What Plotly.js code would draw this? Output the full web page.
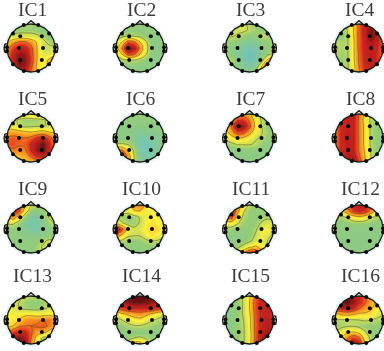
<!DOCTYPE html>
<html><head><meta charset="utf-8">
<script src="https://cdn.plot.ly/plotly-3.0.1.min.js"></script>
<style>html,body{margin:0;padding:0;background:#fff;overflow:hidden}#chart{filter:blur(0.35px)}</style></head>
<body><div id="chart" style="width:384px;height:351px"></div>
<script>
const names=["IC1","IC2","IC3","IC4","IC5","IC6","IC7","IC8","IC9","IC10","IC11","IC12","IC13","IC14","IC15","IC16"];
const gridAxis=[-1,-0.75,-0.5,-0.25,0,0.25,0.5,0.75,1];
const gridRows=[1,0.75,0.5,0.25,0,-0.25,-0.5,-0.75,-1];
const electrodeX=[-0.45,0.45,-0.5,0.5,-0.45,0.45,-0.3,0.3,-0.75,0.75,-1,1,-0.75,0.75,-0.3,0.3,-1,1];
const electrodeY=[0.49,0.49,0,0,-0.5,-0.5,0.96,0.96,0.6,0.6,0.03,0.03,-0.68,-0.68,-0.96,-0.96,-0.12,-0.12];
const ic1=[[3,3,3.2,3.4,3.4,3.4,3.2,3,3],[3.4,3.4,3.4,3.4,3.4,3.2,3,3,3],[4,4,4.2,4.2,4.2,4,3.6,3,3],[5,6,6.8,6.8,6,5,4,3.6,3.4],[6,7.5,8.4,8.3,7,5.2,3.8,4,4],[6.6,8.2,9.2,9,7.2,5.2,4.2,4.2,4.6],[6.6,8.4,9.8,9.4,7.4,5.2,4.4,5.4,6.8],[6,8,9.4,9,7,5,4.4,5.6,6],[5,7,8.4,8.2,6.4,5,4.4,4.6,4.6]];
const ic2=[[3.2,3.2,3.2,3.2,3.2,3.2,3.2,3.2,3.2],[3.1,3.1,3.1,3.1,3.1,3.1,3.1,3.1,3.1],[3.4,3.5,3.7,3.7,3.5,3.2,3,3,3],[3.9,5.2,7.2,6.8,5.2,3.9,3,3,3],[4.4,6.6,9.8,8.8,6.2,4.1,3.1,3,3],[3.9,5.2,7.2,6.8,5.2,3.9,3,3,3],[3.3,3.5,3.7,3.7,3.4,3.1,3,3,3],[3,3,3,3,3,3,3,3,3],[3,3,3,3,3,3,3,3,3]];
const ic3=[[4.2,4.2,4.2,4,3.6,3.3,3.2,3.2,3.2],[4.2,4.2,4,4,3.7,3.4,3.2,3.2,3.4],[3.9,3.9,3.7,3.4,3.1,3.2,3.9,3.5,3.4],[3.3,3.2,3,2.8,2.6,2.8,3,3.2,3.4],[3.2,3,2.8,2.4,2.1,2.4,2.8,3.2,3.4],[3.4,3,2.6,2.2,1.9,2.2,2.7,3.4,4],[3.9,3.6,2.8,2.3,2,2.3,3.2,5.4,7.5],[4.2,3.9,3,2.6,2.4,2.8,5,8,8.2],[4.2,4,3.4,3,3,3.6,6,7,7]];
const ic4=[[3,3,3.9,5,7,8.4,8.6,8,6.5],[2.8,3.2,3.8,5,7,8.6,9.6,8.6,7],[2.8,3.2,3.6,5,7,8.5,9.8,8.6,7],[3.6,3.6,3.6,4.8,7,8.4,9,8.2,6.8],[4,3.6,3.6,4.8,7,8.3,8.6,8,6.6],[3.6,3.4,3.6,4.8,6.8,8.2,8.6,7.8,6.4],[3.4,3.4,3.6,4.8,6.8,8.2,8.8,7.8,6.2],[3.4,3.4,3.6,4.6,6.6,8,8.4,7.4,6],[3.4,3.4,3.6,4.6,6.4,7.8,8,7,5.6]];
const ic5=[[4.6,4.6,4.6,4.8,5,5,4.8,4.6,4.6],[4.2,4,3.7,3.4,3.4,3.5,3.7,4,4.2],[4.6,4.4,3.8,3.5,3.6,3.7,3.7,4,4.2],[5.6,5.8,5.6,5.4,5.2,5.4,5.6,5.2,5],[6.8,7,6.8,6.6,7,8,8.4,7.2,6],[7,7.2,6.8,6.8,8,9,9.8,8,6.2],[6,6.4,6.2,6.4,8,9.2,9.8,8,5.8],[5,5.2,5.4,5.8,6.8,8,8.2,6.6,5],[4.4,4.6,4.8,5,5.4,5.8,6,5,4.4]];
const ic6=[[3.2,3.2,3.2,3.2,3.2,3.2,3.2,3.2,3.2],[3.1,3.1,3.1,3.1,3.1,3.1,3.1,3.1,3.1],[3.1,3,3,3,3,3,3,3,3],[3,3,3,2.9,2.7,2.7,2.8,3,3],[3,3,3,2.7,2.4,2.3,2.5,2.8,3],[3.9,3.9,3.7,3,2.2,2,2.2,2.7,3],[6.2,6.5,4.8,3.6,2.3,2,2.2,2.8,3],[8.4,8.4,6,3.8,2.6,2.2,2.5,2.9,3],[6,7.4,6,3.9,2.9,2.7,2.9,3,3]];
const ic7=[[4,4.6,5.6,6,5.4,4.2,3.6,3.2,3],[4.6,6,7.6,7.6,6.4,4.6,3.7,3.3,3],[5,6.8,9.6,9,7,4.8,3.8,3.3,3],[4.6,6,7.4,7,5.8,4.4,3.9,3.3,3],[4,4.6,5.2,5,4.4,3.9,3.7,3.2,3],[3.4,3.6,3.9,3.9,3.9,3.7,3.3,3,3],[3,3,3,3.1,3.1,3.1,3,3,3],[3,3,3,3,3,3,3,3,3],[3,3,3,3,3,3,3,3,3]];
const ic8=[[6.4,7.6,8.6,8.6,6.6,4.8,3.6,3.2,3],[6.4,8,8.4,8.2,6.4,4.6,3.6,3.2,3],[6.4,8,8.4,8.2,6.4,4.8,3.6,3.2,3],[6.4,8,8.6,8.2,6.4,4.8,3.6,3.2,3],[6.4,8,8.6,8.2,6.4,4.8,3.6,3.2,3],[6.4,8,8.6,8.2,6.4,4.8,3.6,3.2,3],[6.6,8,8.6,8.2,6.4,5,3.7,3.2,3],[6.6,8,8.8,8.8,6.8,5.2,3.8,3.2,3],[6.4,8,8.8,9.8,7.4,5.2,3.8,3.2,3]];
const ic9=[[6,6.6,7,5.6,3.9,3.7,3.6,3.9,4],[6.6,8.2,7,4.4,3.2,3,3.2,4,4.6],[5,6,4.6,3.2,2.4,2.4,3,3.9,4.8],[3.9,4,3.4,2.6,2.2,2.3,2.8,3.4,3.9],[3.2,3.2,3,2.7,2.4,2.4,2.8,3.1,3.2],[3.1,3.1,3.1,2.9,2.8,2.8,3,3.1,3.1],[3.1,3.1,3.1,3.1,3.1,3.2,3.6,4,3.9],[3.1,3.1,3.1,3.1,3.1,3.5,3.9,4.2,4],[3.1,3.1,3.1,3.1,3.1,3.6,3.7,3.8,3.8]];
const ic10=[[4.2,4.4,4.6,6.2,6.4,5,4.6,4.4,4.2],[4.2,4.2,4.2,5,5.1,4.4,4.4,4.4,4.2],[3.9,3.4,3.3,3.4,3.9,4.4,4.6,4.4,4.2],[4.6,3.9,3.4,3.4,3.9,4.6,4.9,4.6,4.2],[9.4,7,4.6,4,4.2,4.8,5.1,5,4.2],[6.6,5,4,3.9,3.9,4.4,4.9,4.4,4],[3.9,3.6,3.3,3.2,3.3,3.6,3.8,3.7,3.6],[3.4,3.3,3.2,3.1,3.1,3.1,3.2,3.3,3.4],[3.4,3.3,3.2,3.1,3.1,3.1,3.2,3.3,3.4]];
const ic11=[[6,6.6,6,4.6,3.6,3.3,3.3,3.3,3.3],[7,8.4,5.6,3.9,3.3,3.2,3.2,3.3,3.4],[6.4,7.2,4.6,3.6,3.2,3.2,3.4,3.6,3.6],[4.6,4.6,3.9,3.4,3.2,3.3,3.9,4.2,3.9],[3.4,3.4,3.2,3.2,3.2,3.6,4.4,4.6,3.9],[3,3,3,3,3.2,3.9,4.4,4.2,3.6],[3,3,3,3.2,3.6,4.2,4.2,3.8,3.4],[3,3.2,3.6,4.2,5,5.4,4.8,3.9,3.4],[3.2,3.6,4.6,6.2,8.2,8,5.6,4.2,3.6]];
const ic12=[[4.6,5.6,6.8,8.2,8.6,8.4,7,5.6,4.6],[4,4.8,6,7.4,8,7.6,6,4.8,4],[3.4,3.6,3.9,4.6,5,4.6,3.9,3.6,3.4],[3.1,3.1,3.2,3.4,3.4,3.4,3.2,3.1,3.1],[3.1,3,3,3,3,3,3,3,3.1],[3.1,3,3,3,2.9,3,3,3,3.1],[3.1,3,3,3,3,3,3,3,3.1],[3,3,3,3,3,3,3,3,3],[3.1,3.1,3.1,3.1,3.1,3.1,3.1,3.1,3.1]];
const ic13=[[4.2,4.2,4.2,3.9,3.7,3.7,3.9,4.2,4.2],[4.4,4.2,3.8,3.4,3.2,3.2,3.4,3.9,4.4],[4.6,4.2,3.8,3.5,3.4,3.4,3.6,3.9,4.4],[4.6,4.4,4.6,4.8,4.8,4.6,4.6,4.8,4.8],[4.8,4.8,5.2,6,6.2,6.2,6.6,6.6,5.8],[5,5.2,6.4,6.6,6.6,6.8,7,6.4,5.2],[6.4,7.6,8,8,6.8,5.8,5.6,4.8,4.2],[7,8.6,9.6,8.8,6.6,4.6,3.6,3.3,3.4],[6.6,8.2,9.8,9.6,6.2,4.2,3.2,3,3]];
const ic14=[[8.4,9,9.6,10,10,9.8,9.4,8.8,8.2],[8,8.6,9.4,9.8,9.8,9.6,9.2,8.6,8],[6.8,7.4,8,8,8,8,8,7.4,6.8],[4.2,5,5.4,5.8,6,5.6,5,4.4,4],[3.5,3.8,4.2,4.6,4.8,4.2,3.9,3.6,3.5],[3.2,3.3,3.5,3.7,3.7,3.6,3.4,3.2,3.2],[3,3,3,3,3,3,3,3,3],[3.2,3.2,3.4,3.8,4,3.7,3.3,3.1,3],[3.4,3.6,4.4,6,5.8,4.6,3.6,3.2,3]];
const ic15=[[3.2,3.3,3.5,3.9,5,6.8,7.8,7.8,7.4],[3,3,3.3,3.9,5.2,7.2,8.3,8.2,7.8],[2.9,3,3.3,3.9,5.2,7.2,8.2,8.4,8],[2.9,3,3.3,3.9,5,7,8.2,8.4,8],[2.9,3,3.3,3.8,4.8,7,8.3,8.6,8.2],[2.9,3,3.3,3.7,4.8,7,8.3,8.7,8.3],[3,3,3.3,3.7,4.6,7,8.5,9,8.5],[3.2,3.2,3.3,3.7,4.6,7,8.9,9.6,8.8],[3.2,3.3,3.4,3.7,4.7,7.2,9.4,9.9,8.8]];
const ic16=[[8,8.8,9.8,9,8,6.8,5.8,5,4.6],[8.4,9.4,10,9.2,8,6.8,5.6,5,4.4],[7.6,8.2,8.6,8,6.8,6,5.4,4.6,4.2],[5,5.4,5.6,5.4,5,5,4.8,4.2,3.9],[3.6,3.7,3.7,3.7,3.8,3.9,3.8,3.6,3.5],[3.4,3.5,3.7,3.7,3.5,3.3,3.2,3.2,3.2],[3.8,4.4,5,5.2,4.8,3.9,3.3,3.1,3],[4.2,5,6.4,7.6,6.8,4.6,3.5,3.1,3],[4.4,5.4,7.2,9.4,8.4,5,3.6,3.2,3]];
const maps=[ic1,ic2,ic3,ic4,ic5,ic6,ic7,ic8,ic9,ic10,ic11,ic12,ic13,ic14,ic15,ic16];
const colorStops=[[0,"#50b4d8"],[0.2,"#74c4b8"],[0.33,"#96cc74"],[0.38,"#c4da60"],[0.46,"#fff23a"],[0.6,"#f9981f"],[0.76,"#e42a20"],[0.88,"#b01a1c"],[1,"#5e0c10"]];
const colCentres=[31,140,249.5,359],rowCentres=[48,138,229,320],titleRows=[10,98,188,275];
const W=384,H=351,R=24;
const traces=[],annotations=[],layout={width:W,height:H,margin:{l:0,r:0,t:0,b:0},paper_bgcolor:"#fff",plot_bgcolor:"rgba(0,0,0,0)",showlegend:false};
const T=[...Array(121).keys()].map(i=>i*Math.PI/60);
const circle=r=>({x:T.map(t=>r*Math.sin(t)),y:T.map(t=>r*Math.cos(t))});
maps.forEach((z,i)=>{
  const n=i+1,cx=colCentres[i%4],cy=rowCentres[Math.floor(i/4)];
  const ax=n===1?"":String(n),xa="x"+ax,ya="y"+ax;
  const x0=Math.max(0,cx-31),x1=Math.min(W,cx+31),y0=Math.max(0,cy-31),y1=Math.min(H,cy+31);
  const hide={visible:false,fixedrange:true};
  layout["xaxis"+ax]=Object.assign({domain:[x0/W,x1/W],range:[(x0-cx)/R,(x1-cx)/R],anchor:ya},hide);
  layout["yaxis"+ax]=Object.assign({domain:[1-y1/H,1-y0/H],range:[(cy-y1)/R,(cy-y0)/R],anchor:xa},hide);
  const base={xaxis:xa,yaxis:ya,hoverinfo:"skip",showlegend:false};
  traces.push(Object.assign({type:"contour",x:gridAxis,y:gridRows,z:z,zmin:0,zmax:10,zauto:false,colorscale:colorStops,showscale:false,
    contours:{coloring:"heatmap",start:3.8,end:9.4,size:1.4,showlines:true},line:{color:"rgba(70,70,30,0.75)",width:0.6}},base));
  const c=circle(1),S=1.03;
  traces.push(Object.assign({type:"scatter",mode:"lines",x:[-S,S,S,-S,-S,0].concat(c.x.slice().reverse()),y:[S,S,-S,-S,S,S].concat(c.y.slice().reverse()),fill:"toself",fillcolor:"#fff",line:{width:0,color:"#fff"}},base));
  const h=circle(1.06);
  traces.push(Object.assign({type:"scatter",mode:"lines",x:h.x,y:h.y,line:{color:"#e6f3f7",width:2}},base));
  traces.push(Object.assign({type:"scatter",mode:"lines",x:c.x,y:c.y,line:{color:"#1a1a10",width:1.3}},base));
  traces.push(Object.assign({type:"scatter",mode:"lines",x:[-0.17,0,0.17],y:[0.99,1.14,0.99],line:{color:"#1a1a10",width:1.4}},base));
  [-1,1].forEach(s=>traces.push(Object.assign({type:"scatter",mode:"lines",x:[s,s*1.09,s*1.12,s*1.1,s],y:[0.18,0.15,0,-0.17,-0.2],line:{color:"#1a1a10",width:1.4}},base)));
  traces.push(Object.assign({type:"scatter",mode:"markers",x:electrodeX,y:electrodeY,marker:{color:"#0a0a0a",size:4}},base));
  annotations.push({text:names[i],xref:"paper",yref:"paper",x:(cx+1)/W,y:1-titleRows[Math.floor(i/4)]/H,xanchor:"center",yanchor:"middle",showarrow:false,
    font:{family:"Liberation Serif",size:19.5,color:"#3c3c3c"}});
});
layout.annotations=annotations;
Plotly.newPlot("chart",traces,layout,{staticPlot:true,displayModeBar:false});
</script></body></html>
